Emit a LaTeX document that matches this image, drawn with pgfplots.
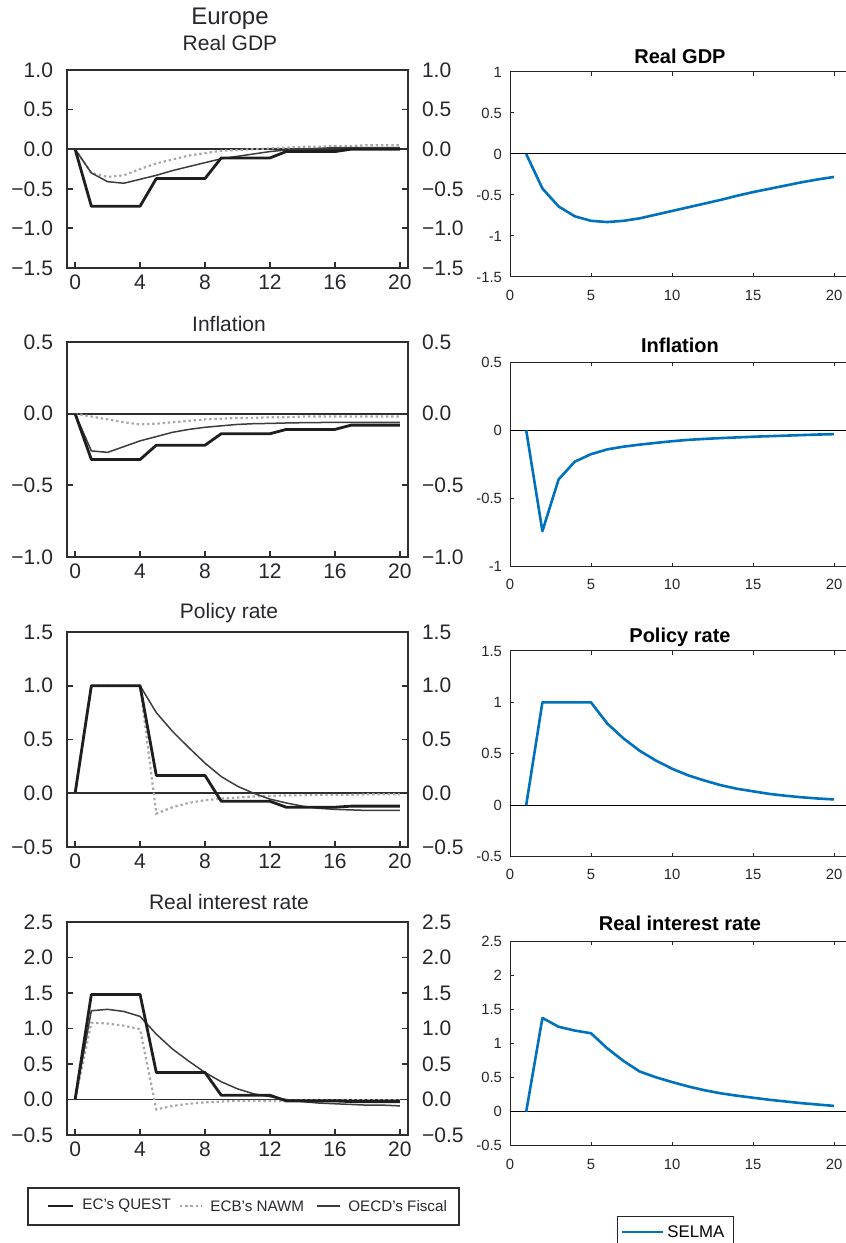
\documentclass[border=0pt]{standalone}
\usepackage{fontspec}
\setmainfont{Liberation Sans}
\usepackage{pgfplots}
\pgfplotsset{compat=1.18}

\definecolor{txtgray}{HTML}{26262E}
\definecolor{framegray}{HTML}{2E2E2E}
\definecolor{questc}{HTML}{1E1E1E}
\definecolor{nawmc}{HTML}{A8A8A8}
\definecolor{oecdc}{HTML}{3C3C3C}
\definecolor{matlabblue}{HTML}{0072BD}
\definecolor{matlabaxis}{HTML}{262626}

\tikzset{
  quest/.style={questc, line width=1.4pt, line join=round},
  nawm/.style={nawmc, line width=1.1pt, dash pattern=on 1.2pt off 1.4pt},
  oecd/.style={oecdc, line width=0.75pt, line join=round},
  zeroL/.style={framegray, line width=0.85pt},
  selma/.style={matlabblue, line width=1.3pt, line join=round},
  zeroR/.style={black, line width=0.5pt},
}

\pgfplotsset{
  leftpanel/.style={
    scale only axis, width=170.5pt, anchor=south west,
    xmin=-0.5, xmax=20.5, xtick={0,4,...,20},
    xtick pos=left, ytick pos=both, tick align=inside,
    major tick length=3pt,
    axis line style={framegray, line width=0.9pt},
    tick style={framegray, line width=0.9pt},
    ticklabel style={font=\fontsize{10.5}{12}\selectfont, text=txtgray},
    /pgf/number format/assume math mode=true,
    yticklabel style={xshift=-3.5pt},
  },
  leftlabels/.style={
    scale only axis, width=170.5pt, anchor=south west,
    xmin=-0.5, xmax=20.5, hide x axis,
    axis line style={draw=none}, ytick style={draw=none},
    yticklabel pos=right,
    ticklabel style={font=\fontsize{10.5}{12}\selectfont, text=txtgray},
    yticklabel style={xshift=3.5pt},
  },
  rightpanel/.style={
    scale only axis, width=170.1pt, anchor=south west,
    xmin=0, xmax=21, xtick={0,5,...,20},
    tick align=inside, major tick length=2pt,
    axis line style={matlabaxis, line width=0.5pt},
    tick style={matlabaxis, line width=0.5pt},
    ticklabel style={font=\fontsize{7.4}{9}\selectfont, text=matlabaxis},
    /pgf/number format/assume math mode=true,
    xticklabel style={yshift=-3pt},
    yticklabel style={xshift=-0.5pt},
  },
}

\begin{document}
\begin{tikzpicture}
\useasboundingbox (0,0) rectangle (423pt,621.5pt);

% ---------------- Europe: Real GDP ----------------
\begin{axis}[leftpanel, at={(33.5pt,487.5pt)}, height=99pt,
  ymin=-1.5, ymax=1.0, ytick={-1.5,-1,-0.5,0,0.5,1},
  yticklabels={−1.5,−1.0,−0.5,0.0,0.5,1.0}]
\addplot[zeroL] coordinates {(-0.5,0)(20.5,0)};
\addplot[nawm] coordinates {(0,0)(1,-0.30)(2,-0.35)(3,-0.33)(4,-0.25)(5,-0.18)(6,-0.13)(7,-0.08)(8,-0.05)(9,-0.02)(10,-0.01)(11,0.0)(12,0.01)(13,0.02)(14,0.03)(15,0.03)(16,0.04)(17,0.04)(18,0.05)(19,0.05)(20,0.05)};
\addplot[oecd] coordinates {(0,0)(1,-0.30)(2,-0.41)(3,-0.43)(4,-0.38)(5,-0.33)(6,-0.27)(7,-0.22)(8,-0.17)(9,-0.12)(10,-0.09)(11,-0.06)(12,-0.03)(13,-0.01)(14,0.0)(15,0.01)(16,0.02)(17,0.02)(18,0.02)(19,0.02)(20,0.02)};
\addplot[quest] coordinates {(0,0)(1,-0.72)(2,-0.72)(3,-0.72)(4,-0.72)(5,-0.37)(6,-0.37)(7,-0.37)(8,-0.37)(9,-0.11)(10,-0.11)(11,-0.11)(12,-0.11)(13,-0.03)(14,-0.03)(15,-0.03)(16,-0.03)(17,0.0)(18,0.0)(19,0.0)(20,0.0)};
\end{axis}
\begin{axis}[leftlabels, at={(33.5pt,487.5pt)}, height=99pt,
  ymin=-1.5, ymax=1.0, ytick={-1.5,-1,-0.5,0,0.5,1},
  yticklabels={−1.5,−1.0,−0.5,0.0,0.5,1.0}]
\end{axis}

% ---------------- Europe: Inflation ----------------
\begin{axis}[leftpanel, at={(33.5pt,343pt)}, height=107.5pt,
  ymin=-1.0, ymax=0.5, ytick={-1,-0.5,0,0.5},
  yticklabels={−1.0,−0.5,0.0,0.5}]
\addplot[zeroL] coordinates {(-0.5,0)(20.5,0)};
\addplot[nawm] coordinates {(0,0)(1,-0.02)(2,-0.04)(3,-0.06)(4,-0.075)(5,-0.07)(6,-0.06)(7,-0.05)(8,-0.04)(9,-0.035)(10,-0.03)(11,-0.03)(12,-0.025)(13,-0.025)(14,-0.02)(15,-0.02)(16,-0.02)(17,-0.02)(18,-0.02)(19,-0.02)(20,-0.02)};
\addplot[oecd] coordinates {(0,0)(1,-0.26)(2,-0.27)(3,-0.23)(4,-0.19)(5,-0.16)(6,-0.13)(7,-0.11)(8,-0.095)(9,-0.085)(10,-0.075)(11,-0.07)(12,-0.068)(13,-0.065)(14,-0.063)(15,-0.062)(16,-0.06)(17,-0.06)(18,-0.06)(19,-0.06)(20,-0.06)};
\addplot[quest] coordinates {(0,0)(1,-0.32)(2,-0.32)(3,-0.32)(4,-0.32)(5,-0.22)(6,-0.22)(7,-0.22)(8,-0.22)(9,-0.14)(10,-0.14)(11,-0.14)(12,-0.14)(13,-0.11)(14,-0.11)(15,-0.11)(16,-0.11)(17,-0.08)(18,-0.08)(19,-0.08)(20,-0.08)};
\end{axis}
\begin{axis}[leftlabels, at={(33.5pt,343pt)}, height=107.5pt,
  ymin=-1.0, ymax=0.5, ytick={-1,-0.5,0,0.5},
  yticklabels={−1.0,−0.5,0.0,0.5}]
\end{axis}

% ---------------- Europe: Policy rate ----------------
\begin{axis}[leftpanel, at={(33.5pt,198pt)}, height=107.5pt,
  ymin=-0.5, ymax=1.5, ytick={-0.5,0,0.5,1,1.5},
  yticklabels={−0.5,0.0,0.5,1.0,1.5}]
\addplot[zeroL] coordinates {(-0.5,0)(20.5,0)};
\addplot[nawm] coordinates {(0,0)(1,1.0)(2,1.0)(3,1.0)(4,1.0)(5,-0.19)(6,-0.13)(7,-0.09)(8,-0.065)(9,-0.05)(10,-0.04)(11,-0.03)(12,-0.025)(13,-0.02)(14,-0.02)(15,-0.015)(16,-0.015)(17,-0.015)(18,-0.01)(19,-0.01)(20,-0.01)};
\addplot[oecd] coordinates {(0,0)(1,1.0)(2,1.0)(3,1.0)(4,1.0)(5,0.75)(6,0.575)(7,0.425)(8,0.28)(9,0.155)(10,0.065)(11,0.0)(12,-0.055)(13,-0.09)(14,-0.12)(15,-0.14)(16,-0.15)(17,-0.155)(18,-0.16)(19,-0.16)(20,-0.16)};
\addplot[quest] coordinates {(0,0)(1,1.0)(2,1.0)(3,1.0)(4,1.0)(5,0.165)(6,0.165)(7,0.165)(8,0.165)(9,-0.075)(10,-0.075)(11,-0.075)(12,-0.075)(13,-0.13)(14,-0.13)(15,-0.13)(16,-0.13)(17,-0.12)(18,-0.12)(19,-0.12)(20,-0.12)};
\end{axis}
\begin{axis}[leftlabels, at={(33.5pt,198pt)}, height=107.5pt,
  ymin=-0.5, ymax=1.5, ytick={-0.5,0,0.5,1,1.5},
  yticklabels={−0.5,0.0,0.5,1.0,1.5}]
\end{axis}

% ---------------- Europe: Real interest rate ----------------
\begin{axis}[leftpanel, at={(33.5pt,54pt)}, height=106.5pt,
  ymin=-0.5, ymax=2.5, ytick={-0.5,0,0.5,1,1.5,2,2.5},
  yticklabels={−0.5,0.0,0.5,1.0,1.5,2.0,2.5}]
\addplot[zeroL] coordinates {(-0.5,0)(20.5,0)};
\addplot[nawm] coordinates {(0,0)(1,1.08)(2,1.07)(3,1.04)(4,0.99)(5,-0.14)(6,-0.09)(7,-0.06)(8,-0.04)(9,-0.03)(10,-0.02)(11,-0.02)(12,-0.02)(13,-0.02)(14,-0.015)(15,-0.015)(16,-0.015)(17,-0.01)(18,-0.01)(19,-0.01)(20,-0.01)};
\addplot[oecd] coordinates {(0,0)(1,1.25)(2,1.27)(3,1.24)(4,1.17)(5,0.92)(6,0.71)(7,0.54)(8,0.38)(9,0.25)(10,0.15)(11,0.08)(12,0.04)(13,0.0)(14,-0.03)(15,-0.05)(16,-0.06)(17,-0.07)(18,-0.08)(19,-0.08)(20,-0.09)};
\addplot[quest] coordinates {(0,0)(1,1.48)(2,1.48)(3,1.48)(4,1.48)(5,0.38)(6,0.38)(7,0.38)(8,0.38)(9,0.06)(10,0.06)(11,0.06)(12,0.06)(13,-0.02)(14,-0.02)(15,-0.02)(16,-0.02)(17,-0.03)(18,-0.03)(19,-0.03)(20,-0.03)};
\end{axis}
\begin{axis}[leftlabels, at={(33.5pt,54pt)}, height=106.5pt,
  ymin=-0.5, ymax=2.5, ytick={-0.5,0,0.5,1,1.5,2,2.5},
  yticklabels={−0.5,0.0,0.5,1.0,1.5,2.0,2.5}]
\end{axis}

% ---------------- SELMA panels ----------------
\begin{axis}[rightpanel, at={(255pt,483pt)}, height=102.5pt,
  ymin=-1.5, ymax=1, ytick={-1.5,-1,-0.5,0,0.5,1}]
\addplot[zeroR] coordinates {(0,0)(21,0)};
\addplot[selma] coordinates {(1,0)(2,-0.42)(3,-0.64)(4,-0.76)(5,-0.815)(6,-0.83)(7,-0.815)(8,-0.785)(9,-0.74)(10,-0.695)(11,-0.65)(12,-0.605)(13,-0.56)(14,-0.51)(15,-0.465)(16,-0.425)(17,-0.385)(18,-0.345)(19,-0.31)(20,-0.28)};
\end{axis}

\begin{axis}[rightpanel, at={(255pt,338.2pt)}, height=102.2pt,
  ymin=-1, ymax=0.5, ytick={-1,-0.5,0,0.5}]
\addplot[zeroR] coordinates {(0,0)(21,0)};
\addplot[selma] coordinates {(1,0)(2,-0.74)(3,-0.36)(4,-0.23)(5,-0.175)(6,-0.14)(7,-0.12)(8,-0.105)(9,-0.092)(10,-0.08)(11,-0.07)(12,-0.063)(13,-0.057)(14,-0.052)(15,-0.047)(16,-0.043)(17,-0.039)(18,-0.035)(19,-0.031)(20,-0.028)};
\end{axis}

\begin{axis}[rightpanel, at={(255pt,193.2pt)}, height=102.8pt,
  ymin=-0.5, ymax=1.5, ytick={-0.5,0,0.5,1,1.5}]
\addplot[zeroR] coordinates {(0,0)(21,0)};
\addplot[selma] coordinates {(1,0)(2,1)(3,1)(4,1)(5,1)(6,0.795)(7,0.65)(8,0.53)(9,0.435)(10,0.355)(11,0.29)(12,0.24)(13,0.195)(14,0.16)(15,0.135)(16,0.11)(17,0.092)(18,0.077)(19,0.065)(20,0.056)};
\end{axis}

\begin{axis}[rightpanel, at={(255pt,48.6pt)}, height=102.3pt,
  ymin=-0.5, ymax=2.5, ytick={-0.5,0,0.5,1,1.5,2,2.5}]
\addplot[zeroR] coordinates {(0,0)(21,0)};
\addplot[selma] coordinates {(1,0)(2,1.375)(3,1.245)(4,1.19)(5,1.15)(6,0.93)(7,0.745)(8,0.59)(9,0.505)(10,0.435)(11,0.37)(12,0.315)(13,0.27)(14,0.235)(15,0.205)(16,0.175)(17,0.15)(18,0.125)(19,0.105)(20,0.085)};
\end{axis}

% ---------------- titles ----------------
\begin{scope}[every node/.style={anchor=base, text=txtgray, font=\fontsize{10.5}{12}\selectfont}]
\node[font=\fontsize{12}{14}\selectfont] at (115pt,609pt) {Europe};
\node at (115pt,596.2pt) {Real GDP};
\node at (114.5pt,455.7pt) {Inflation};
\node at (114.5pt,312.3pt) {Policy rate};
\node at (114.5pt,166.5pt) {Real interest rate};
\end{scope}
\begin{scope}[every node/.style={anchor=base, text=black, font=\bfseries\fontsize{10}{12}\selectfont}]
\node at (340pt,589.8pt) {Real GDP};
\node at (340pt,445.3pt) {Inflation};
\node at (340pt,300.3pt) {Policy rate};
\node at (340pt,156pt) {Real interest rate};
\end{scope}

% ---------------- legends ----------------
\draw[framegray, line width=1pt] (14pt,9pt) rectangle (229.5pt,27.5pt);
\draw[quest] (24pt,18.5pt) -- (36.5pt,18.5pt);
\draw[nawm] (90pt,18.5pt) -- (101pt,18.5pt);
\draw[oecd] (158.5pt,18.5pt) -- (170pt,18.5pt);
\begin{scope}[every node/.style={anchor=west, text=txtgray, inner sep=0pt, font=\fontsize{7.6}{9}\selectfont}]
\node at (41pt,18.5pt) {EC’s QUEST};
\node at (105pt,18.5pt) {ECB’s NAWM};
\node at (174pt,18.5pt) {OECD’s Fiscal};
\end{scope}

\draw[matlabaxis, line width=0.5pt, fill=white] (308.5pt,-2pt) rectangle (366.5pt,13pt);
\draw[selma] (311pt,5.5pt) -- (331.5pt,5.5pt);
\node[anchor=west, inner sep=0pt, font=\fontsize{8.4}{10}\selectfont] at (333.5pt,5.5pt) {SELMA};
\end{tikzpicture}
\end{document}
